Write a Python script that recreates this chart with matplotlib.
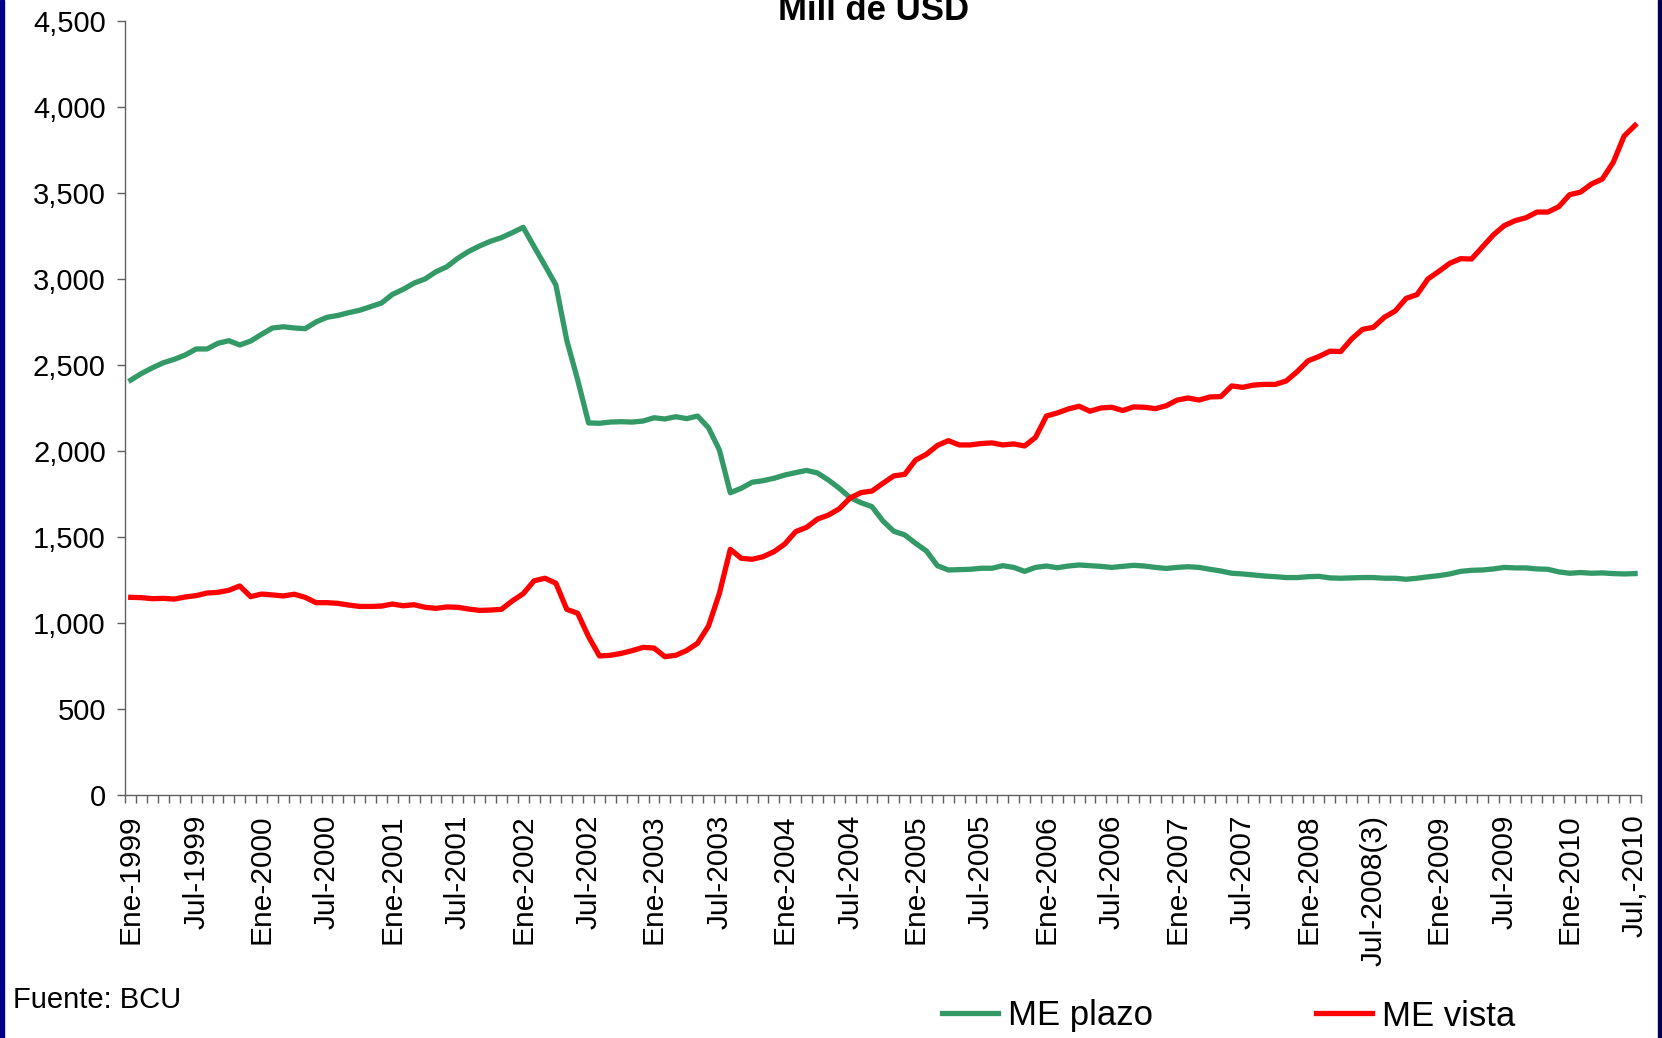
import matplotlib.pyplot as plt
from matplotlib.ticker import FuncFormatter, FixedLocator
from matplotlib.patches import Rectangle

plt.rcParams['font.family'] = ['Liberation Sans', 'DejaVu Sans']

# Monthly series, Ene-1999 .. Jul-2010 (Mill de USD)
me_plazo = [
    2414, 2453, 2486, 2515, 2535, 2560, 2595, 2595, 2628, 2643, 2618, 2641,
    2680, 2717, 2724, 2717, 2713, 2752, 2779, 2790, 2806, 2820, 2841, 2862,
    2912, 2942, 2978, 3002, 3044, 3073, 3122, 3162, 3194, 3221, 3242, 3271,
    3302, 3190, 3080, 2967, 2645, 2415, 2165, 2163, 2170, 2172, 2170, 2176,
    2195, 2188, 2201, 2190, 2205, 2137, 2008, 1759, 1785, 1820, 1829, 1843,
    1862, 1876, 1889, 1874, 1833, 1785, 1730, 1701, 1678, 1595, 1535, 1514,
    1465, 1420, 1335, 1310, 1312, 1314, 1320, 1320, 1335, 1325, 1302, 1325,
    1333, 1323, 1333, 1339, 1335, 1331, 1325, 1331, 1337, 1333, 1325, 1319,
    1325, 1329, 1325, 1314, 1304, 1291, 1287, 1281, 1275, 1271, 1266, 1266,
    1271, 1273, 1264, 1262, 1264, 1266, 1266, 1262, 1262, 1256, 1262, 1270,
    1277, 1287, 1302, 1308, 1310, 1316, 1325, 1322, 1322, 1316, 1314, 1299,
    1291, 1295, 1291, 1293, 1289, 1287, 1289,
]
me_vista = [
    1151, 1149, 1143, 1145, 1141, 1153, 1161, 1176, 1180, 1192, 1217, 1155,
    1170, 1165, 1159, 1169, 1151, 1120, 1120, 1116, 1106, 1098, 1098, 1100,
    1112, 1102, 1108, 1093, 1087, 1095, 1093, 1083, 1075, 1077, 1081, 1130,
    1172, 1247, 1262, 1233, 1081, 1058, 922, 810, 814, 825, 841, 860,
    856, 806, 814, 842, 884, 984, 1174, 1430, 1378, 1372, 1387, 1416,
    1461, 1533, 1558, 1606, 1629, 1666, 1729, 1760, 1769, 1814, 1857, 1866,
    1949, 1983, 2034, 2062, 2037, 2037, 2045, 2049, 2037, 2043, 2031, 2081,
    2205, 2223, 2246, 2262, 2233, 2252, 2256, 2237, 2258, 2256, 2248, 2265,
    2298, 2310, 2298, 2316, 2318, 2380, 2372, 2385, 2389, 2389, 2409, 2463,
    2526, 2551, 2582, 2580, 2653, 2709, 2721, 2779, 2816, 2889, 2911, 3002,
    3046, 3093, 3120, 3118, 3188, 3258, 3312, 3341, 3358, 3391, 3391, 3422,
    3492, 3507, 3554, 3583, 3680, 3833, 3895,
]
tick_labels = [
    'Ene-1999', 'Jul-1999', 'Ene-2000', 'Jul-2000', 'Ene-2001', 'Jul-2001',
    'Ene-2002', 'Jul-2002', 'Ene-2003', 'Jul-2003', 'Ene-2004', 'Jul-2004',
    'Ene-2005', 'Jul-2005', 'Ene-2006', 'Jul-2006', 'Ene-2007', 'Jul-2007',
    'Ene-2008', 'Jul-2008(3)', 'Ene-2009', 'Jul-2009', 'Ene-2010', 'Jul,-2010',
]
y_ticks = [0, 500, 1000, 1500, 2000, 2500, 3000, 3500, 4000, 4500]

W, H = 1662, 1038
fig = plt.figure(figsize=(W / 100, H / 100), dpi=100)
ax = fig.add_axes([125.3 / W, 1 - 795.3 / H, (1640.5 - 125.3) / W, (795.3 - 21.3) / H])

n = len(me_plazo)
x = list(range(n))
ax.plot(x, me_plazo, color='#339966', lw=3.8, label='ME plazo', solid_joinstyle='round')
ax.plot(x, me_vista, color='#ff0000', lw=3.8, label='ME vista', solid_joinstyle='round')

ax.set_xlim(-0.5, n - 0.5)
ax.set_ylim(0, 4500)

# category axis: tick marks between months, labels every 6 months
ax.xaxis.set_minor_locator(FixedLocator([i - 0.5 for i in range(n + 1)]))
ax.set_xticks(list(range(0, n, 6)))
ax.set_xticklabels(tick_labels, rotation=90, fontsize=21.5)
ax.tick_params(axis='x', which='major', length=0, pad=14)
ax.tick_params(axis='x', which='minor', length=6, width=1, color='#606060', direction='out')

ax.set_yticks(y_ticks)
ax.yaxis.set_major_formatter(FuncFormatter(lambda v, p: f'{int(v):,}'))
ax.tick_params(axis='y', length=6, width=1, color='#606060', labelsize=21, pad=8)

for s in ['top', 'right']:
    ax.spines[s].set_visible(False)
for s in ['left', 'bottom']:
    ax.spines[s].set_color('#606060')
    ax.spines[s].set_linewidth(1)

# title, partly cut by top edge as in the slide
fig.text(874 / W, 1 - 20 / H, 'Mill de USD', ha='center', va='baseline',
         fontsize=25, fontweight='bold')
fig.text(13 / W, 1 - 1008 / H, 'Fuente: BCU', ha='left', va='baseline', fontsize=21)

fig.legend(loc='center left', bbox_to_anchor=(942 / W, 1 - 1016 / H), ncol=2,
           frameon=False, fontsize=25, handlelength=1.6, handletextpad=0.3,
           columnspacing=4.7, borderpad=0, borderaxespad=0)

# slide border strips
fig.patches.append(Rectangle((0, 0), 4 / W, 1, transform=fig.transFigure,
                             color='#00008c', zorder=5))
fig.patches.append(Rectangle((1 - 4 / W, 0), 4 / W, 1, transform=fig.transFigure,
                             color='#000050', zorder=5))

fig.savefig('out.png', dpi=100)
